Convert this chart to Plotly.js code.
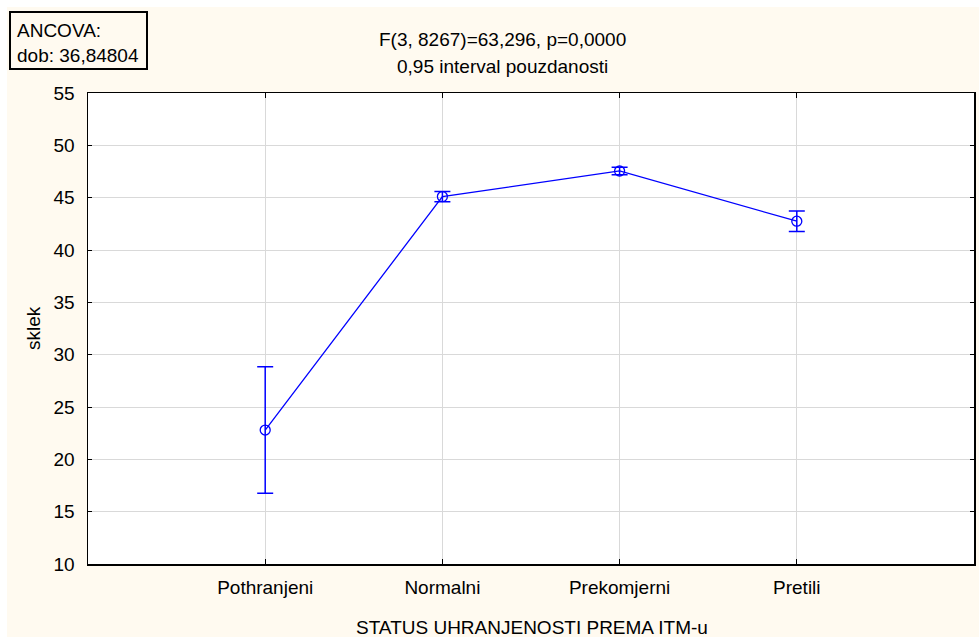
<!DOCTYPE html>
<html>
<head>
<meta charset="utf-8">
<script src="https://cdn.plot.ly/plotly-3.0.1.min.js"></script>
<style>
  html, body { margin: 0; padding: 0; background: #ffffff; }
  #bg { position: absolute; left: 7px; top: 7px; width: 972px; height: 630px; background: #fffaf0; }
  #chart { position: absolute; left: 0; top: 0; width: 979px; height: 640px; }
</style>
</head>
<body>
<div id="bg"></div>
<div id="chart"></div>
<script>
// ---- data ----
var categories = ['Pothranjeni', 'Normalni', 'Prekomjerni', 'Pretili'];
var means = [22.8, 45.1, 47.55, 42.75];
var ciHalf = [6.05, 0.48, 0.36, 0.98];
var yTickVals = [10, 15, 20, 25, 30, 35, 40, 45, 50, 55];
var titleLine1 = 'F(3, 8267)=63,296, p=0,0000';
var titleLine2 = '0,95 interval pouzdanosti';
var boxLine1 = 'ANCOVA:';
var boxLine2 = 'dob: 36,84804';
var xTitle = 'STATUS UHRANJENOSTI PREMA ITM-u';
var yTitle = 'sklek';

// ---- layout geometry (pixels) ----
var W = 979, H = 640;
var M = { l: 88, r: 5, t: 93, b: 76 };
var PW = W - M.l - M.r, PH = H - M.t - M.b;
function px2x(px) { return (px - M.l) / PW; }
function px2y(py) { return (H - M.b - py) / PH; }

var FONT = 'Liberation Sans, Arial, sans-serif';
var FS = 19;

var trace = {
  type: 'scatter',
  mode: 'lines+markers',
  x: categories,
  y: means,
  line: { color: '#0000ff', width: 1.3 },
  marker: { symbol: 'circle-open', size: 10, color: '#0000ff', line: { width: 1.3, color: '#0000ff' } },
  error_y: { type: 'data', array: ciHalf, visible: true, color: '#0000ff', thickness: 1.5, width: 8 },
  hoverinfo: 'x+y',
  showlegend: false
};

var layout = {
  width: W, height: H,
  margin: M,
  paper_bgcolor: 'rgba(0,0,0,0)',
  plot_bgcolor: '#ffffff',
  font: { family: FONT, size: FS, color: '#000000' },
  xaxis: {
    type: 'category',
    range: [-1, 4],
    showgrid: true, gridcolor: '#d9d9d9', gridwidth: 1,
    showline: true, linecolor: '#000000', linewidth: 1.5, mirror: 'ticks',
    ticks: 'inside', ticklen: 5, tickcolor: '#000000', tickwidth: 1,
    ticklabelstandoff: 6,
    zeroline: false, automargin: false,
    tickfont: { family: FONT, size: FS, color: '#000000' }
  },
  yaxis: {
    range: [10, 55],
    tickvals: yTickVals,
    showgrid: true, gridcolor: '#d9d9d9', gridwidth: 1,
    showline: true, linecolor: '#000000', linewidth: 1.5, mirror: 'ticks',
    ticks: 'inside', ticklen: 4, tickcolor: '#000000', tickwidth: 1,
    ticklabelstandoff: 8,
    zeroline: false, automargin: false,
    tickfont: { family: FONT, size: FS, color: '#000000' }
  },
  shapes: [
    { type: 'rect', xref: 'paper', yref: 'paper',
      x0: px2x(10), x1: px2x(147), y0: px2y(69), y1: px2y(12),
      line: { color: '#000000', width: 2 }, fillcolor: '#fffaf0', layer: 'above' }
  ],
  annotations: [
    { text: titleLine1, xref: 'paper', yref: 'paper', x: px2x(502), y: px2y(39),
      xanchor: 'center', yanchor: 'middle', showarrow: false, font: { family: FONT, size: FS } },
    { text: titleLine2, xref: 'paper', yref: 'paper', x: px2x(502), y: px2y(66.5),
      xanchor: 'center', yanchor: 'middle', showarrow: false, font: { family: FONT, size: FS } },
    { text: boxLine1, xref: 'paper', yref: 'paper', x: px2x(15), y: px2y(30),
      xanchor: 'left', yanchor: 'middle', showarrow: false, font: { family: FONT, size: FS } },
    { text: boxLine2, xref: 'paper', yref: 'paper', x: px2x(15), y: px2y(55),
      xanchor: 'left', yanchor: 'middle', showarrow: false, font: { family: FONT, size: FS } },
    { text: xTitle, xref: 'paper', yref: 'paper', x: px2x(531.5), y: px2y(627),
      xanchor: 'center', yanchor: 'middle', showarrow: false, font: { family: FONT, size: FS } },
    { text: yTitle, xref: 'paper', yref: 'paper', x: px2x(33), y: px2y(328),
      xanchor: 'center', yanchor: 'middle', textangle: -90, showarrow: false, font: { family: FONT, size: FS } }
  ]
};

Plotly.newPlot('chart', [trace], layout, { displayModeBar: false, staticPlot: true });
</script>
</body>
</html>
